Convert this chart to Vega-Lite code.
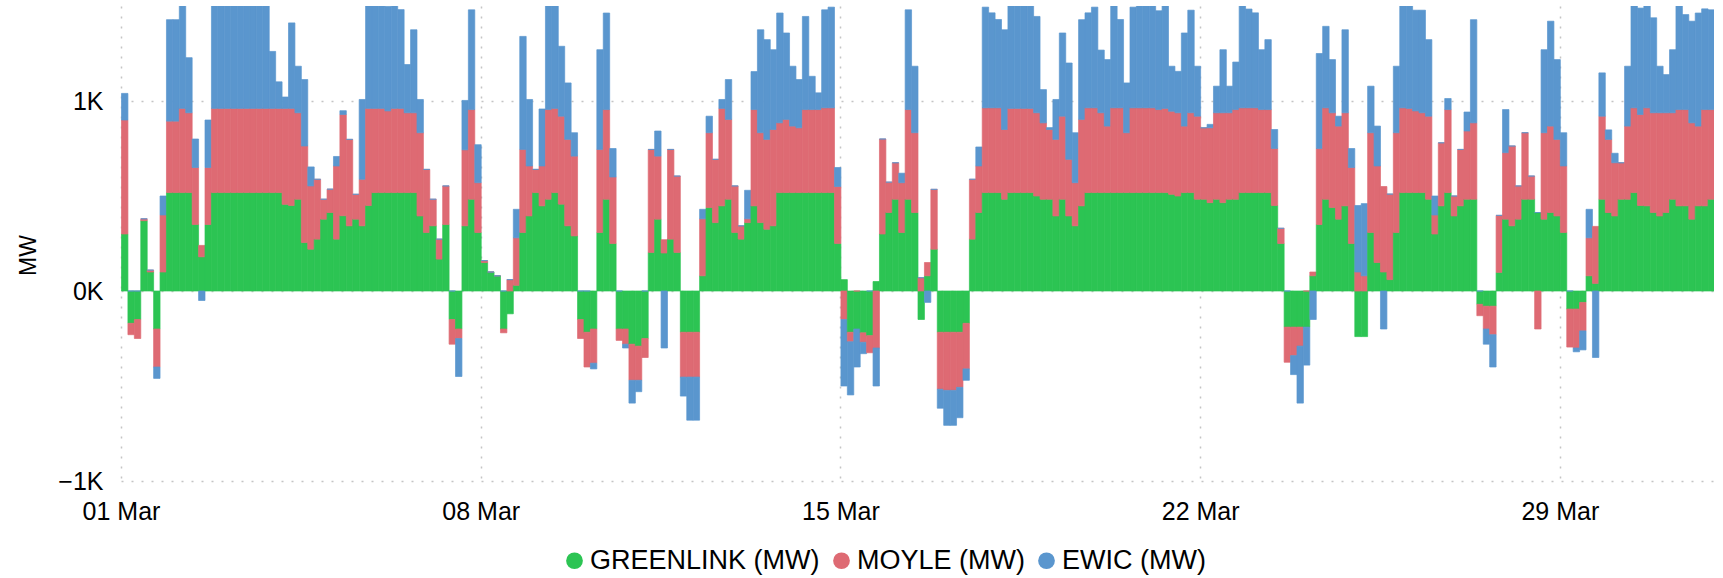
{
"$schema": "https://vega.github.io/schema/vega-lite/v6.json",
"width": 1593, "height": 475,
"autosize": {"type": "none"},
"padding": {"left": 121, "top": 6, "right": 9, "bottom": 97},
"background": "white",
"config": {"font": "Liberation Sans", "view": {"stroke": null}},
"data": {"format": {"parse": {"t": "utc:'%Y-%m-%d %H'"}}, "values": [
{"t":"2025-03-01 00","g":300,"m":600,"e":140},{"t":"2025-03-01 03","g":-170,"m":-60,"e":0},{"t":"2025-03-01 06","g":-150,"m":-100,"e":0},{"t":"2025-03-01 09","g":370,"m":10,"e":0},{"t":"2025-03-01 12","g":100,"m":10,"e":0},{"t":"2025-03-01 15","g":-200,"m":-200,"e":-60},{"t":"2025-03-01 18","g":100,"m":300,"e":100},{"t":"2025-03-01 21","g":518,"m":376,"e":534},
{"t":"2025-03-02 00","g":518,"m":376,"e":534},{"t":"2025-03-02 03","g":518,"m":443,"e":560},{"t":"2025-03-02 06","g":518,"m":420,"e":290},{"t":"2025-03-02 09","g":350,"m":300,"e":150},{"t":"2025-03-02 12","g":180,"m":60,"e":-50},{"t":"2025-03-02 15","g":350,"m":300,"e":250},{"t":"2025-03-02 18","g":518,"m":443,"e":560},{"t":"2025-03-02 21","g":518,"m":443,"e":560},
{"t":"2025-03-03 00","g":518,"m":443,"e":560},{"t":"2025-03-03 03","g":518,"m":443,"e":560},{"t":"2025-03-03 06","g":518,"m":443,"e":560},{"t":"2025-03-03 09","g":518,"m":443,"e":560},{"t":"2025-03-03 12","g":518,"m":443,"e":560},{"t":"2025-03-03 15","g":518,"m":443,"e":560},{"t":"2025-03-03 18","g":518,"m":443,"e":560},{"t":"2025-03-03 21","g":518,"m":443,"e":300},
{"t":"2025-03-04 00","g":518,"m":443,"e":140},{"t":"2025-03-04 03","g":456,"m":505,"e":60},{"t":"2025-03-04 06","g":450,"m":511,"e":450},{"t":"2025-03-04 09","g":483,"m":455,"e":245},{"t":"2025-03-04 12","g":255,"m":508,"e":350},{"t":"2025-03-04 15","g":220,"m":333,"e":100},{"t":"2025-03-04 18","g":273,"m":315,"e":0},{"t":"2025-03-04 21","g":378,"m":105,"e":0},
{"t":"2025-03-05 00","g":413,"m":123,"e":0},{"t":"2025-03-05 03","g":273,"m":385,"e":50},{"t":"2025-03-05 06","g":396,"m":533,"e":20},{"t":"2025-03-05 09","g":343,"m":455,"e":0},{"t":"2025-03-05 12","g":378,"m":131,"e":0},{"t":"2025-03-05 15","g":343,"m":245,"e":420},{"t":"2025-03-05 18","g":450,"m":511,"e":540},{"t":"2025-03-05 21","g":518,"m":443,"e":560},
{"t":"2025-03-06 00","g":518,"m":443,"e":560},{"t":"2025-03-06 03","g":518,"m":430,"e":550},{"t":"2025-03-06 06","g":518,"m":443,"e":560},{"t":"2025-03-06 09","g":518,"m":443,"e":520},{"t":"2025-03-06 12","g":518,"m":420,"e":254},{"t":"2025-03-06 15","g":518,"m":420,"e":437},{"t":"2025-03-06 18","g":395,"m":438,"e":175},{"t":"2025-03-06 21","g":308,"m":332,"e":0},
{"t":"2025-03-07 00","g":343,"m":140,"e":0},{"t":"2025-03-07 03","g":168,"m":105,"e":0},{"t":"2025-03-07 06","g":350,"m":203,"e":0},{"t":"2025-03-07 09","g":-150,"m":-130,"e":0},{"t":"2025-03-07 12","g":-200,"m":-50,"e":-200},{"t":"2025-03-07 15","g":343,"m":400,"e":260},{"t":"2025-03-07 18","g":483,"m":472,"e":525},{"t":"2025-03-07 21","g":308,"m":262,"e":200},
{"t":"2025-03-08 00","g":150,"m":10,"e":0},{"t":"2025-03-08 03","g":100,"m":0,"e":0},{"t":"2025-03-08 06","g":80,"m":0,"e":0},{"t":"2025-03-08 09","g":-200,"m":-20,"e":0},{"t":"2025-03-08 12","g":-120,"m":60,"e":0},{"t":"2025-03-08 15","g":30,"m":250,"e":150},{"t":"2025-03-08 18","g":308,"m":437,"e":595},{"t":"2025-03-08 21","g":395,"m":263,"e":350},
{"t":"2025-03-09 00","g":518,"m":122,"e":0},{"t":"2025-03-09 03","g":448,"m":210,"e":300},{"t":"2025-03-09 06","g":483,"m":472,"e":560},{"t":"2025-03-09 09","g":518,"m":443,"e":560},{"t":"2025-03-09 12","g":457,"m":463,"e":368},{"t":"2025-03-09 15","g":343,"m":455,"e":297},{"t":"2025-03-09 18","g":290,"m":420,"e":123},{"t":"2025-03-09 21","g":-150,"m":-100,"e":0},
{"t":"2025-03-10 00","g":-217,"m":-183,"e":0},{"t":"2025-03-10 03","g":-200,"m":-180,"e":-30},{"t":"2025-03-10 06","g":308,"m":437,"e":525},{"t":"2025-03-10 09","g":483,"m":472,"e":508},{"t":"2025-03-10 12","g":250,"m":350,"e":150},{"t":"2025-03-10 15","g":-200,"m":-60,"e":0},{"t":"2025-03-10 18","g":-200,"m":-80,"e":-20},{"t":"2025-03-10 21","g":-280,"m":-190,"e":-120},
{"t":"2025-03-11 00","g":-290,"m":-180,"e":-60},{"t":"2025-03-11 03","g":-250,"m":-100,"e":0},{"t":"2025-03-11 06","g":203,"m":542,"e":0},{"t":"2025-03-11 09","g":378,"m":332,"e":132},{"t":"2025-03-11 12","g":200,"m":70,"e":-300},{"t":"2025-03-11 15","g":273,"m":472,"e":0},{"t":"2025-03-11 18","g":203,"m":402,"e":0},{"t":"2025-03-11 21","g":-217,"m":-236,"e":-100},
{"t":"2025-03-12 00","g":-217,"m":-236,"e":-227},{"t":"2025-03-12 03","g":-217,"m":-236,"e":-227},{"t":"2025-03-12 06","g":80,"m":300,"e":50},{"t":"2025-03-12 09","g":439,"m":394,"e":87},{"t":"2025-03-12 12","g":360,"m":333,"e":0},{"t":"2025-03-12 15","g":448,"m":513,"e":47},{"t":"2025-03-12 18","g":483,"m":420,"e":210},{"t":"2025-03-12 21","g":308,"m":245,"e":0},
{"t":"2025-03-13 00","g":273,"m":70,"e":0},{"t":"2025-03-13 03","g":360,"m":20,"e":150},{"t":"2025-03-13 06","g":448,"m":507,"e":200},{"t":"2025-03-13 09","g":360,"m":473,"e":542},{"t":"2025-03-13 12","g":325,"m":473,"e":525},{"t":"2025-03-13 15","g":343,"m":507,"e":420},{"t":"2025-03-13 18","g":518,"m":367,"e":578},{"t":"2025-03-13 21","g":518,"m":385,"e":455},
{"t":"2025-03-14 00","g":518,"m":350,"e":315},{"t":"2025-03-14 03","g":518,"m":341,"e":254},{"t":"2025-03-14 06","g":518,"m":437,"e":490},{"t":"2025-03-14 09","g":518,"m":437,"e":175},{"t":"2025-03-14 12","g":518,"m":437,"e":88},{"t":"2025-03-14 15","g":518,"m":446,"e":516},{"t":"2025-03-14 18","g":518,"m":446,"e":530},{"t":"2025-03-14 21","g":250,"m":300,"e":100},
{"t":"2025-03-15 00","g":60,"m":-150,"e":-350},{"t":"2025-03-15 03","g":-217,"m":-50,"e":-280},{"t":"2025-03-15 06","g":-200,"m":0,"e":-200},{"t":"2025-03-15 09","g":-220,"m":-50,"e":-60},{"t":"2025-03-15 12","g":-235,"m":-90,"e":0},{"t":"2025-03-15 15","g":50,"m":-300,"e":-200},{"t":"2025-03-15 18","g":300,"m":500,"e":0},{"t":"2025-03-15 21","g":413,"m":160,"e":0},
{"t":"2025-03-16 00","g":483,"m":192,"e":0},{"t":"2025-03-16 03","g":308,"m":262,"e":50},{"t":"2025-03-16 06","g":483,"m":472,"e":525},{"t":"2025-03-16 09","g":413,"m":420,"e":350},{"t":"2025-03-16 12","g":-150,"m":70,"e":0},{"t":"2025-03-16 15","g":80,"m":70,"e":-60},{"t":"2025-03-16 18","g":220,"m":315,"e":0},{"t":"2025-03-16 21","g":-217,"m":-300,"e":-100},
{"t":"2025-03-17 00","g":-217,"m":-306,"e":-184},{"t":"2025-03-17 03","g":-217,"m":-306,"e":-184},{"t":"2025-03-17 06","g":-217,"m":-290,"e":-160},{"t":"2025-03-17 09","g":-170,"m":-240,"e":-60},{"t":"2025-03-17 12","g":273,"m":315,"e":0},{"t":"2025-03-17 15","g":413,"m":245,"e":100},{"t":"2025-03-17 18","g":518,"m":446,"e":530},{"t":"2025-03-17 21","g":518,"m":446,"e":500},
{"t":"2025-03-18 00","g":518,"m":446,"e":465},{"t":"2025-03-18 03","g":483,"m":367,"e":525},{"t":"2025-03-18 06","g":518,"m":443,"e":560},{"t":"2025-03-18 09","g":518,"m":443,"e":560},{"t":"2025-03-18 12","g":518,"m":443,"e":560},{"t":"2025-03-18 15","g":518,"m":443,"e":560},{"t":"2025-03-18 18","g":500,"m":438,"e":507},{"t":"2025-03-18 21","g":483,"m":402,"e":175},
{"t":"2025-03-19 00","g":483,"m":367,"e":10},{"t":"2025-03-19 03","g":395,"m":403,"e":210},{"t":"2025-03-19 06","g":483,"m":437,"e":438},{"t":"2025-03-19 09","g":395,"m":298,"e":507},{"t":"2025-03-19 12","g":343,"m":227,"e":263},{"t":"2025-03-19 15","g":448,"m":455,"e":525},{"t":"2025-03-19 18","g":518,"m":446,"e":500},{"t":"2025-03-19 21","g":518,"m":446,"e":530},
{"t":"2025-03-20 00","g":518,"m":420,"e":330},{"t":"2025-03-20 03","g":518,"m":350,"e":350},{"t":"2025-03-20 06","g":518,"m":446,"e":560},{"t":"2025-03-20 09","g":518,"m":446,"e":465},{"t":"2025-03-20 12","g":518,"m":315,"e":262},{"t":"2025-03-20 15","g":518,"m":446,"e":530},{"t":"2025-03-20 18","g":518,"m":446,"e":540},{"t":"2025-03-20 21","g":518,"m":446,"e":560},
{"t":"2025-03-21 00","g":518,"m":446,"e":560},{"t":"2025-03-21 03","g":518,"m":437,"e":520},{"t":"2025-03-21 06","g":518,"m":443,"e":560},{"t":"2025-03-21 09","g":509,"m":437,"e":237},{"t":"2025-03-21 12","g":500,"m":438,"e":218},{"t":"2025-03-21 15","g":518,"m":350,"e":490},{"t":"2025-03-21 18","g":518,"m":420,"e":540},{"t":"2025-03-21 21","g":483,"m":437,"e":263},
{"t":"2025-03-22 00","g":483,"m":376,"e":0},{"t":"2025-03-22 03","g":465,"m":394,"e":18},{"t":"2025-03-22 06","g":483,"m":455,"e":140},{"t":"2025-03-22 09","g":465,"m":473,"e":332},{"t":"2025-03-22 12","g":483,"m":455,"e":140},{"t":"2025-03-22 15","g":483,"m":472,"e":250},{"t":"2025-03-22 18","g":518,"m":446,"e":540},{"t":"2025-03-22 21","g":518,"m":446,"e":520},
{"t":"2025-03-23 00","g":518,"m":446,"e":500},{"t":"2025-03-23 03","g":518,"m":437,"e":315},{"t":"2025-03-23 06","g":518,"m":437,"e":368},{"t":"2025-03-23 09","g":450,"m":300,"e":100},{"t":"2025-03-23 12","g":250,"m":80,"e":0},{"t":"2025-03-23 15","g":-190,"m":-185,"e":0},{"t":"2025-03-23 18","g":-190,"m":-150,"e":-100},{"t":"2025-03-23 21","g":-190,"m":-100,"e":-300},
{"t":"2025-03-24 00","g":-190,"m":0,"e":-200},{"t":"2025-03-24 03","g":80,"m":20,"e":-150},{"t":"2025-03-24 06","g":350,"m":400,"e":500},{"t":"2025-03-24 09","g":483,"m":481,"e":429},{"t":"2025-03-24 12","g":439,"m":499,"e":280},{"t":"2025-03-24 15","g":378,"m":490,"e":52},{"t":"2025-03-24 18","g":448,"m":490,"e":437},{"t":"2025-03-24 21","g":250,"m":400,"e":100},
{"t":"2025-03-25 00","g":-240,"m":100,"e":350},{"t":"2025-03-25 03","g":-240,"m":80,"e":380},{"t":"2025-03-25 06","g":308,"m":525,"e":245},{"t":"2025-03-25 09","g":150,"m":508,"e":210},{"t":"2025-03-25 12","g":100,"m":450,"e":-200},{"t":"2025-03-25 15","g":60,"m":450,"e":0},{"t":"2025-03-25 18","g":308,"m":525,"e":350},{"t":"2025-03-25 21","g":518,"m":446,"e":560},
{"t":"2025-03-26 00","g":518,"m":443,"e":560},{"t":"2025-03-26 03","g":518,"m":430,"e":530},{"t":"2025-03-26 06","g":518,"m":420,"e":540},{"t":"2025-03-26 09","g":483,"m":437,"e":403},{"t":"2025-03-26 12","g":300,"m":100,"e":100},{"t":"2025-03-26 15","g":448,"m":332,"e":0},{"t":"2025-03-26 18","g":518,"m":437,"e":58},{"t":"2025-03-26 21","g":395,"m":105,"e":0},
{"t":"2025-03-27 00","g":448,"m":297,"e":0},{"t":"2025-03-27 03","g":483,"m":359,"e":100},{"t":"2025-03-27 06","g":483,"m":402,"e":543},{"t":"2025-03-27 09","g":-70,"m":-60,"e":0},{"t":"2025-03-27 12","g":-80,"m":-120,"e":-80},{"t":"2025-03-27 15","g":-80,"m":-150,"e":-170},{"t":"2025-03-27 18","g":98,"m":300,"e":0},{"t":"2025-03-27 21","g":378,"m":350,"e":227},
{"t":"2025-03-28 00","g":343,"m":420,"e":0},{"t":"2025-03-28 03","g":378,"m":175,"e":0},{"t":"2025-03-28 06","g":483,"m":350,"e":0},{"t":"2025-03-28 09","g":483,"m":122,"e":0},{"t":"2025-03-28 12","g":413,"m":-200,"e":0},{"t":"2025-03-28 15","g":378,"m":455,"e":437},{"t":"2025-03-28 18","g":413,"m":455,"e":552},{"t":"2025-03-28 21","g":395,"m":403,"e":420},
{"t":"2025-03-29 00","g":308,"m":350,"e":175},{"t":"2025-03-29 03","g":-95,"m":-200,"e":0},{"t":"2025-03-29 06","g":-95,"m":-205,"e":-20},{"t":"2025-03-29 09","g":-60,"m":-150,"e":-100},{"t":"2025-03-29 12","g":80,"m":200,"e":150},{"t":"2025-03-29 15","g":40,"m":300,"e":-350},{"t":"2025-03-29 18","g":483,"m":437,"e":228},{"t":"2025-03-29 21","g":413,"m":385,"e":50},
{"t":"2025-03-30 00","g":395,"m":280,"e":50},{"t":"2025-03-30 03","g":483,"m":192,"e":0},{"t":"2025-03-30 06","g":483,"m":385,"e":315},{"t":"2025-03-30 09","g":518,"m":446,"e":560},{"t":"2025-03-30 12","g":450,"m":479,"e":560},{"t":"2025-03-30 15","g":448,"m":516,"e":560},{"t":"2025-03-30 18","g":413,"m":525,"e":500},{"t":"2025-03-30 21","g":395,"m":543,"e":245},
{"t":"2025-03-31 00","g":413,"m":525,"e":201},{"t":"2025-03-31 03","g":483,"m":455,"e":332},{"t":"2025-03-31 06","g":448,"m":507,"e":560},{"t":"2025-03-31 09","g":448,"m":507,"e":500},{"t":"2025-03-31 12","g":378,"m":507,"e":535},{"t":"2025-03-31 15","g":448,"m":420,"e":595},{"t":"2025-03-31 18","g":448,"m":507,"e":530},{"t":"2025-03-31 21","g":483,"m":472,"e":525}
]},
"transform": [
  {"fold": ["g", "m", "e"], "as": ["k", "v"]},
  {"lookup": "k", "from": {"data": {"values": [
    {"k": "g", "o": 1, "name": "GREENLINK (MW)"},
    {"k": "m", "o": 2, "name": "MOYLE (MW)"},
    {"k": "e", "o": 3, "name": "EWIC (MW)"}
  ]}, "key": "k", "fields": ["o", "name"]}}
],
"mark": {"type": "bar", "clip": true, "binSpacing": 0, "strokeWidth": 0.7},
"encoding": {
  "x": {
    "field": "t", "type": "temporal",
    "timeUnit": {"unit": "yearmonthdatehours", "step": 3, "utc": true},
    "scale": {"domain": [{"year": 2025, "month": 3, "date": 1, "utc": true}, {"year": 2025, "month": 4, "date": 1, "utc": true}]},
    "axis": {
      "title": null,
      "values": [
        {"year": 2025, "month": 3, "date": 1, "utc": true},
        {"year": 2025, "month": 3, "date": 8, "utc": true},
        {"year": 2025, "month": 3, "date": 15, "utc": true},
        {"year": 2025, "month": 3, "date": 22, "utc": true},
        {"year": 2025, "month": 3, "date": 29, "utc": true}
      ],
      "format": "%d %b",
      "grid": true, "gridDash": [2, 8], "gridColor": "#c4c4c4", "gridWidth": 1.5,
      "domain": false, "ticks": false,
      "labelFontSize": 25, "labelColor": "#000000", "labelPadding": 18, "labelFlush": false
    }
  },
  "y": {
    "field": "v", "type": "quantitative", "stack": "zero",
    "scale": {"domain": [-1000, 1500], "nice": false},
    "axis": {
      "title": "MW", "titleFontSize": 23, "titleFontWeight": "normal", "titleColor": "#000000",
      "titleX": -93, "titleY": 249, "titleBaseline": "middle", "titleAlign": "center",
      "values": [-1000, 0, 1000],
      "labelExpr": "format(datum.value / 1000, 'd') + 'K'",
      "grid": true, "gridDash": [2, 8], "gridColor": "#c4c4c4", "gridWidth": 1.5,
      "domain": false, "ticks": false,
      "labelFontSize": 25, "labelColor": "#000000", "labelPadding": 18
    }
  },
  "color": {
    "field": "name", "type": "nominal",
    "scale": {"domain": ["GREENLINK (MW)", "MOYLE (MW)", "EWIC (MW)"], "range": ["#2cc453", "#de6a73", "#5a96ce"]},
    "legend": {
      "title": null, "orient": "none", "direction": "horizontal",
      "legendX": 440, "legendY": 541,
      "symbolType": "circle", "symbolSize": 280, "symbolStrokeWidth": 0,
      "labelFontSize": 27, "labelColor": "#000000", "labelOffset": 2, "columnPadding": 8, "labelLimit": 500
    }
  },
  "stroke": {
    "field": "name", "type": "nominal",
    "scale": {"domain": ["GREENLINK (MW)", "MOYLE (MW)", "EWIC (MW)"], "range": ["#2cc453", "#de6a73", "#5a96ce"]},
    "legend": null
  },
  "order": {"field": "o", "type": "quantitative"}
}
}
